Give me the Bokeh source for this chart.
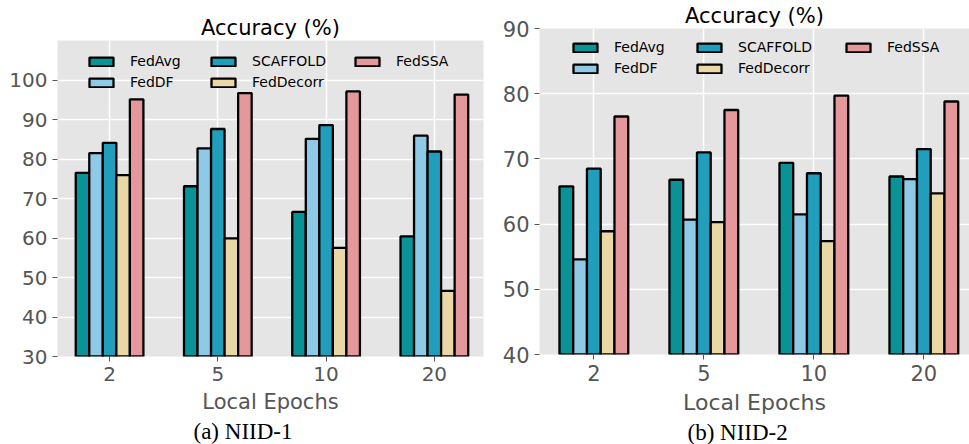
from bokeh.plotting import figure
from bokeh.models import (ColumnDataSource, FixedTicker, Legend, LegendItem,
                          Title, Range1d)
from bokeh.layouts import row
from bokeh.transform import dodge
from bokeh.embed import file_html
from bokeh.resources import INLINE

# ---------------- data ----------------
epochs = ["2", "5", "10", "20"]
methods = ["FedAvg", "FedDF", "SCAFFOLD", "FedDecorr", "FedSSA"]
colors = ["#0a9396", "#8ecae6", "#219ebc", "#e9d8a6", "#e5989b"]

niid1_fedavg = [76.5, 73.1, 66.6, 60.4]
niid1_feddf = [81.5, 82.7, 85.1, 85.9]
niid1_scaffold = [84.1, 87.6, 88.6, 81.9]
niid1_feddecorr = [75.9, 59.9, 57.5, 46.6]
niid1_fedssa = [95.1, 96.7, 97.1, 96.3]

niid2_fedavg = [65.8, 66.8, 69.4, 67.3]
niid2_feddf = [54.6, 60.7, 61.5, 66.9]
niid2_scaffold = [68.5, 71.0, 67.8, 71.5]
niid2_feddecorr = [58.9, 60.3, 57.4, 64.7]
niid2_fedssa = [76.5, 77.5, 79.7, 78.8]

y1_ticks = [30, 40, 50, 60, 70, 80, 90, 100]
y2_ticks = [40, 50, 60, 70, 80, 90]

BAR_W = 0.125
FONT = "DejaVu Sans"
GREY = "#555555"


def make_panel(series, caption, width, height, mb_left, mb_right, mb_top,
               mb_bottom, x_range, y_range, y_ticks, tick_fs, label_fs,
               title_standoff, caption_offset, legend_cols):
    p = figure(width=width, height=height, output_backend="svg",
               toolbar_location=None, x_range=Range1d(*x_range),
               y_range=Range1d(*y_range), min_border_left=mb_left,
               min_border_right=mb_right, min_border_top=mb_top,
               min_border_bottom=mb_bottom)
    p.frame_align = False
    p.background_fill_color = "#e5e5e5"
    p.border_fill_color = "white"
    p.outline_line_color = None

    src = ColumnDataSource(dict(x=list(range(len(epochs))),
                                **{m: v for m, v in zip(methods, series)}))
    renderers = []
    for i, (m, c) in enumerate(zip(methods, colors)):
        r = p.vbar(x=dodge("x", (i - 2) * BAR_W), top=m, bottom=0,
                   width=BAR_W, source=src, fill_color=c, line_color="black",
                   line_width=2.3)
        renderers.append(r)

    # axes
    p.xaxis.ticker = FixedTicker(ticks=list(range(len(epochs))))
    p.xaxis.major_label_overrides = {i: e for i, e in enumerate(epochs)}
    p.yaxis.ticker = FixedTicker(ticks=y_ticks)
    for ax in (p.xaxis[0], p.yaxis[0]):
        ax.axis_line_color = None
        ax.major_tick_line_color = GREY
        ax.major_tick_out = 5
        ax.major_tick_in = 0
        ax.minor_tick_line_color = None
        ax.major_label_text_font = FONT
        ax.major_label_text_font_size = tick_fs
        ax.major_label_text_color = GREY
    p.yaxis.major_label_standoff = 5
    p.xaxis.major_label_standoff = 5
    p.xaxis.axis_label = "Local Epochs"
    p.xaxis.axis_label_text_font = FONT
    p.xaxis.axis_label_text_font_size = label_fs
    p.xaxis.axis_label_text_font_style = "normal"
    p.xaxis.axis_label_text_color = GREY
    p.xaxis.axis_label_standoff = 6

    p.grid.grid_line_color = "white"
    p.grid.grid_line_width = 1.5
    p.xgrid.ticker = FixedTicker(ticks=list(range(len(epochs))))
    p.ygrid.ticker = FixedTicker(ticks=y_ticks)

    # legends (three columns)
    groups = [[0, 1], [2, 3], [4]]
    for (lx, ly), g in zip(legend_cols, groups):
        leg = Legend(items=[LegendItem(label=methods[k], renderers=[renderers[k]])
                            for k in g],
                     location=(lx, ly), orientation="vertical",
                     glyph_width=30, glyph_height=11, label_standoff=14,
                     spacing=5, padding=0, margin=0, label_height=16,
                     border_line_color=None, background_fill_alpha=0,
                     label_text_font=FONT, label_text_font_size="14px",
                     label_text_color="black")
        p.add_layout(leg)

    p.add_layout(Title(text="Accuracy (%)", align="center",
                       text_font=FONT, text_font_size="21px",
                       text_font_style="normal", text_color="black",
                       standoff=title_standoff), "above")
    p.add_layout(Title(text=caption, align="left", offset=caption_offset,
                       text_font="Liberation Serif", text_font_size="23px",
                       text_font_style="normal", text_color="black",
                       standoff=0), "below")
    return p


p1 = make_panel([niid1_fedavg, niid1_feddf, niid1_scaffold, niid1_feddecorr,
                 niid1_fedssa], "(a) NIID-1",
                width=490, height=444, mb_left=57, mb_right=7, mb_top=40,
                mb_bottom=88, x_range=(-0.481, 3.454), y_range=(30, 110),
                y_ticks=y1_ticks, tick_fs="20px", label_fs="21px",
                title_standoff=2, caption_offset=136,
                legend_cols=[(29, 266), (151, 266), (295, 287)])

p2 = make_panel([niid2_fedavg, niid2_feddf, niid2_scaffold, niid2_feddecorr,
                 niid2_fedssa], "(b) NIID-2",
                width=479, height=444, mb_left=49, mb_right=0, mb_top=28,
                mb_bottom=89, x_range=(-0.494, 3.415), y_range=(40, 90),
                y_ticks=y2_ticks, tick_fs="21px", label_fs="22px",
                title_standoff=2, caption_offset=148,
                legend_cols=[(31, 278), (155, 278), (304, 299)])

layout = row(p1, p2, spacing=0)
open("out.html", "w").write(file_html(layout, INLINE))
